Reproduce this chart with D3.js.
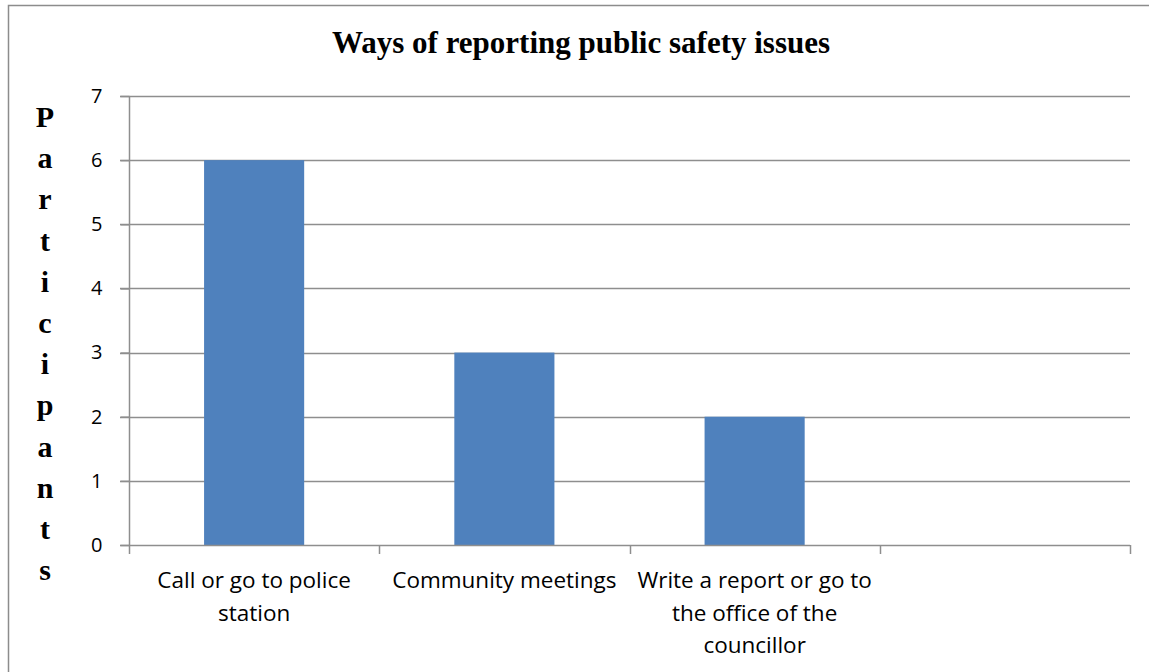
<!DOCTYPE html>
<html>
<head>
<meta charset="utf-8">
<script src="https://cdnjs.cloudflare.com/ajax/libs/d3/7.8.5/d3.min.js"></script>
<style>
  body { margin: 0; background: #fff; }
</style>
</head>
<body>
<svg id="chart" width="1149" height="672"></svg>
<script>
// data
var categories = ["Call or go to police station", "Community meetings", "Write a report or go to the office of the councillor", ""];
var values = [6, 3, 2, null];
var labelLines = [["Call or go to police", "station"], ["Community meetings"], ["Write a report or go to", "the office of the", "councillor"], []];
var yTicks = [0, 1, 2, 3, 4, 5, 6, 7];
var title = "Ways of reporting public safety issues";
var yLabel = "Participants";

var svg = d3.select("#chart"),
    width = +svg.attr("width"),
    height = +svg.attr("height");

var margin = {left: 129, right: 19, top: 96, bottom: 127};

// outer frame (cut at right/bottom like the original)
svg.append("path")
    .attr("d", "M8.5," + height + "V5.5H" + width)
    .attr("fill", "none")
    .attr("stroke", "#8c8c8c")
    .attr("stroke-width", 1.5);

var x = d3.scaleBand()
    .domain(categories.map(function(d, i) { return i; }))
    .range([margin.left, width - margin.right])
    .paddingInner(0.6)
    .paddingOuter(0.3);

var y = d3.scaleLinear()
    .domain([0, 7])
    .range([height - margin.bottom, margin.top]);

// gridlines
svg.append("g")
  .selectAll("line")
  .data(yTicks.filter(function(d) { return d > 0; }))
  .enter().append("line")
    .attr("x1", margin.left - 9)
    .attr("x2", width - margin.right)
    .attr("y1", function(d) { return Math.round(y(d)) + 0.5; })
    .attr("y2", function(d) { return Math.round(y(d)) + 0.5; })
    .attr("stroke", "#8e8e8e")
    .attr("stroke-width", 1.5);

// bars
svg.append("g")
  .selectAll("rect")
  .data(values.map(function(v, i) { return {i: i, v: v}; }).filter(function(d) { return d.v != null; }))
  .enter().append("rect")
    .attr("x", function(d) { return x(d.i); })
    .attr("width", x.bandwidth())
    .attr("y", function(d) { return y(d.v); })
    .attr("height", function(d) { return y(0) - y(d.v); })
    .attr("fill", "#4f81bd");

// y axis
var yAxis = svg.append("g")
    .attr("transform", "translate(" + (margin.left + 0.5) + ",0)")
    .call(d3.axisLeft(y).tickValues(yTicks).tickFormat(d3.format("d")).tickSize(9).tickPadding(18));
yAxis.select(".domain").attr("stroke", "#8e8e8e").attr("stroke-width", 1.5)
    .attr("d", "M0," + y(7) + "V" + (y(0) + 0.5));
yAxis.selectAll(".tick line").attr("stroke", "#8e8e8e").attr("stroke-width", 1.5);
yAxis.selectAll(".tick text")
    .attr("font-family", "'Open Sans', sans-serif")
    .attr("font-size", "20px")
    .attr("fill", "#000");

// x axis: band boundaries as ticks
var step = x.step();
var xEdges = d3.range(categories.length + 1).map(function(i) { return margin.left + i * step; });
var xg = svg.append("g");
xg.append("line")
    .attr("x1", margin.left - 9).attr("x2", width - margin.right)
    .attr("y1", y(0) + 0.5).attr("y2", y(0) + 0.5)
    .attr("stroke", "#8e8e8e").attr("stroke-width", 1.5);
xg.selectAll("line.tk")
  .data(xEdges)
  .enter().append("line")
    .attr("class", "tk")
    .attr("x1", function(d) { return Math.round(d) + 0.5; })
    .attr("x2", function(d) { return Math.round(d) + 0.5; })
    .attr("y1", y(0)).attr("y2", y(0) + 9)
    .attr("stroke", "#8e8e8e").attr("stroke-width", 1.5);

// category labels
var lab = svg.append("g")
  .selectAll("text")
  .data(labelLines)
  .enter().append("text")
    .attr("text-anchor", "middle")
    .attr("font-family", "'Open Sans', sans-serif")
    .attr("font-size", "22.5px")
    .attr("fill", "#000")
    .attr("x", function(d, i) { return x(i) + x.bandwidth() / 2; })
    .attr("y", y(0) + 43);
lab.selectAll("tspan")
  .data(function(d, i) { return d.map(function(s) { return {s: s, i: i}; }); })
  .enter().append("tspan")
    .attr("x", function(d) { return x(d.i) + x.bandwidth() / 2; })
    .attr("dy", function(d, j) { return j === 0 ? 0 : 32.5; })
    .text(function(d) { return d.s; });

// title
svg.append("text")
    .attr("x", 581)
    .attr("y", 53)
    .attr("text-anchor", "middle")
    .attr("font-family", "'Liberation Serif', 'Times New Roman', serif")
    .attr("font-weight", "bold")
    .attr("font-size", "31px")
    .text(title);

// vertical stacked y label
svg.append("g")
  .selectAll("text")
  .data(yLabel.split(""))
  .enter().append("text")
    .attr("x", 45)
    .attr("y", function(d, i) { return 127 + i * 41.2; })
    .attr("text-anchor", "middle")
    .attr("font-family", "'Liberation Serif', 'Times New Roman', serif")
    .attr("font-weight", "bold")
    .attr("font-size", "30px")
    .text(function(d) { return d; });
</script>
</body>
</html>
